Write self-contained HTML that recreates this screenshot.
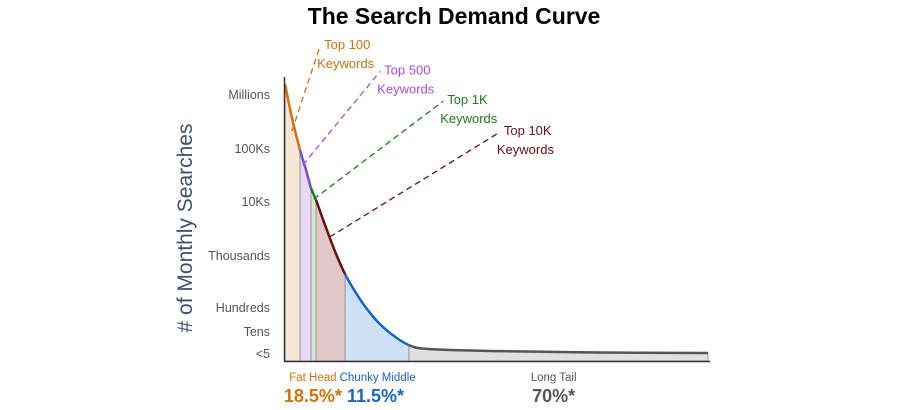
<!DOCTYPE html>
<html><head><meta charset="utf-8"><style>
body{margin:0;background:#fff;width:908px;height:410px;overflow:hidden}
svg{display:block;font-family:"Liberation Sans",sans-serif}
</style></head><body>
<svg id="chart" width="908" height="410">
<text x="454" y="24" text-anchor="middle" font-weight="bold" font-size="23" fill="#000">The Search Demand Curve</text>
<text transform="translate(192,228) rotate(-90)" text-anchor="middle" font-size="21" fill="#3d4f73"># of Monthly Searches</text>
<g id="fills"></g><g id="curve"></g><g id="leaders"></g><g id="ylabels"></g><g id="bottom"></g>
<line x1="284.5" y1="77" x2="284.5" y2="361" stroke="#333" stroke-width="1.5"/>
<line x1="284" y1="361.5" x2="710" y2="361.5" stroke="#333" stroke-width="1.5"/>
</svg>
<script>
const curveX=[0,1.65,3.55,4.96,6.15,7.33,9.46,11.8,14.2,17.7,21.3,24.8,29.3,34.3,50.8,74.5,100];
const curveV=[97.5,85.6,74.3,67.3,60.9,56.7,47.9,38.7,30.6,21.8,14.8,9.9,5.6,4.2,3.5,3.0,2.8];
const segEnds=[2,4,5,8,12,16];
const segNames=["top-100","top-500","top-1k","top-10k","chunky-middle","long-tail"];
const segLine=["#d4700f","#7a4fc8","#1e7a1e","#6a0f0f","#1565c8","#555"];
const segFill=["#f7e6d6","#ead9fa","#d3e6d3","#e0c8c8","#cde0f4","#e0e0e0"];
const yTickLabels=["Millions","100Ks","10Ks","Thousands","Hundreds","Tens","<5"];
const yTickVals=[93.7,74.6,56,37,18.7,10.2,2.5];
const leaderFrom=[[1.65,81],[4.2,69],[6.8,57],[10.6,43.7]];
const leaderTo=[[8.3,111],[22.5,102],[37.4,91.5],[50.8,80.6]];
const leaderLabels=[["Top 100","Keywords"],["Top 500","Keywords"],["Top 1K","Keywords"],["Top 10K","Keywords"]];
const leaderColors=["#d4700f","#a64de8","#1e7a1e","#6a0f0f"];
const groupNames=["Fat Head","Chunky Middle","Long Tail"];
const groupPcts=["18.5%*","11.5%*","70%*"];
const groupCenters=[6.6,21.9,63.5];
const groupColors=["#d4700f","#1565c8","#555"];
const X=d=>285+d*4.23, Y=v=>361-v*2.84;
const NS="http://www.w3.org/2000/svg";
function mk(tag,attrs,parent){const e=document.createElementNS(NS,tag);for(const k in attrs)e.setAttribute(k,attrs[k]);parent.appendChild(e);return e;}
const P=curveX.map((d,i)=>[X(d),Y(curveV[i])]);
function seg(a,b){ // catmull-rom cubic path from point a to b
  let s="";
  for(let i=a;i<b;i++){
    const p0=P[Math.max(i-1,0)],p1=P[i],p2=P[i+1],p3=P[Math.min(i+2,P.length-1)];
    const c1=[p1[0]+(p2[0]-p0[0])/6,p1[1]+(p2[1]-p0[1])/6];
    const c2=[p2[0]-(p3[0]-p1[0])/6,p2[1]-(p3[1]-p1[1])/6];
    s+=" C"+c1[0].toFixed(1)+","+c1[1].toFixed(1)+" "+c2[0].toFixed(1)+","+c2[1].toFixed(1)+" "+p2[0].toFixed(1)+","+p2[1].toFixed(1);
  }
  return s;
}
const fills=document.getElementById('fills'),curve=document.getElementById('curve');
let start=0;
segEnds.forEach((end,i)=>{
  const body=seg(start,end);
  const f=mk('path',{d:"M"+P[start][0]+",361 L"+P[start][0]+","+P[start][1]+body+" L"+P[end][0]+",361 Z",fill:segFill[i],stroke:"#999","stroke-width":1},fills);
  
  
  const pl=mk('path',{d:"M"+P[start][0]+","+P[start][1]+body,fill:"none",stroke:segLine[i],"stroke-width":2.5},curve);
  
  
  start=end;
});
const leaders=document.getElementById('leaders');
leaderFrom.forEach((f,i)=>{
  const t=leaderTo[i];
  const l=mk('line',{x1:X(f[0]),y1:Y(f[1]),x2:X(t[0]),y2:Y(t[1]),stroke:leaderColors[i],"stroke-width":1.3,"stroke-dasharray":"6,4"},leaders);
  
  
  const tx=mk('text',{x:X(t[0])+4,y:Y(t[1])+3,fill:leaderColors[i],"font-size":13},leaders);
  tx.textContent=leaderLabels[i][0];
  
  
  const tx2=mk('text',{x:X(t[0])-3,y:Y(t[1])+22,fill:leaderColors[i],"font-size":13},leaders);
  tx2.textContent=leaderLabels[i][1];
  
  
});
const yl=document.getElementById('ylabels');
yTickLabels.forEach((s,i)=>{
  const t=mk('text',{x:270,y:Y(yTickVals[i])+4,"text-anchor":"end",fill:"#555","font-size":12.5},yl);
  t.textContent=s;
  
  
});
const bt=document.getElementById('bottom');
const pctCenters=[6.6,21.4,63.5];
groupNames.forEach((s,i)=>{
  const a=mk('text',{x:X(groupCenters[i]),y:381,"text-anchor":"middle",fill:groupColors[i],"font-size":11.5},bt);
  a.textContent=s;
  
  
  const b=mk('text',{x:X(pctCenters[i]),y:402,"text-anchor":"middle",fill:groupColors[i],"font-size":18,"font-weight":"bold"},bt);
  b.textContent=groupPcts[i];
  
  
});
</script>
</body></html>
